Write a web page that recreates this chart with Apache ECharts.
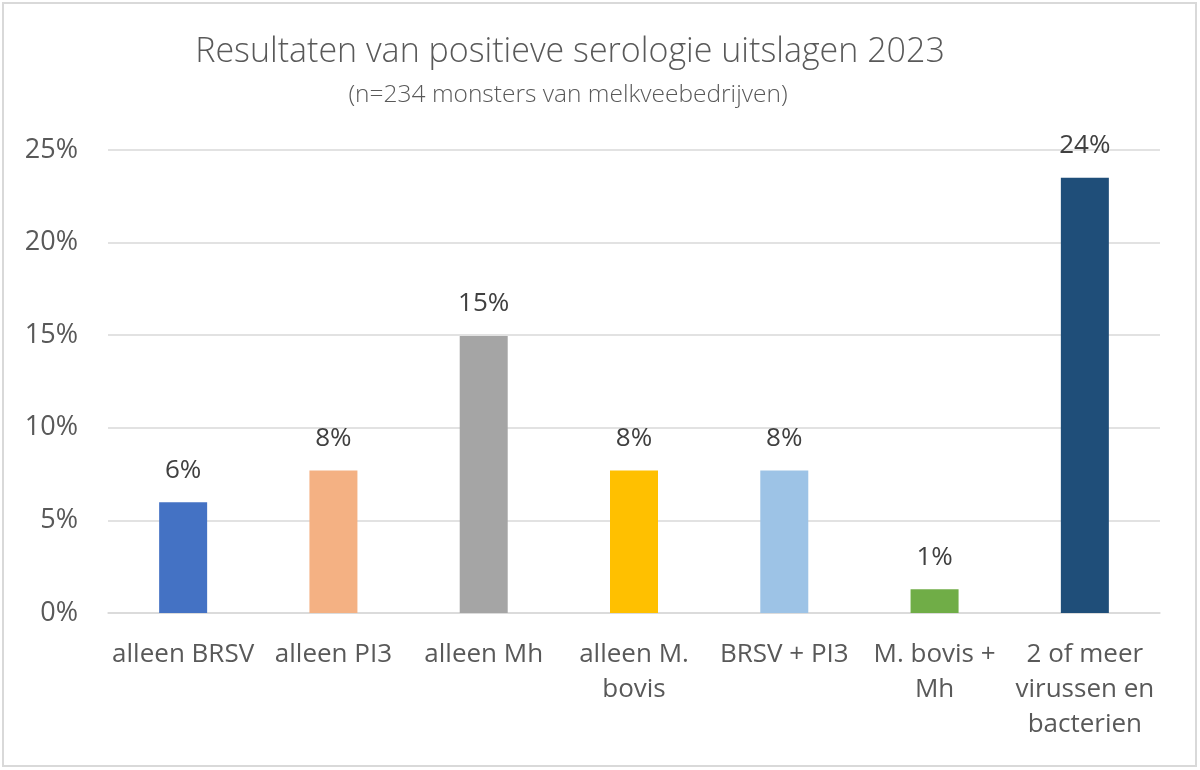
<!DOCTYPE html>
<html>
<head>
<meta charset="utf-8">
<script src="https://cdn.jsdelivr.net/npm/echarts@6/dist/echarts.min.js"></script>
<style>
html,body{margin:0;padding:0;background:#fff;}
#c{width:1200px;height:770px;}
</style>
</head>
<body>
<div id="c"></div>
<script>
const categories = ["alleen BRSV", "alleen PI3", "alleen Mh", "alleen M.\nbovis", "BRSV + PI3", "M. bovis +\nMh", "2 of meer\nvirussen en\nbacterien"];
const values = [5.98, 7.69, 14.96, 7.69, 7.69, 1.28, 23.50];
const colors = ["#4472C4", "#F4B183", "#A5A5A5", "#FFC000", "#9DC3E6", "#70AD47", "#1F4E79"];
const yTicks = [0, 5, 10, 15, 20, 25];

const chart = echarts.init(document.getElementById('c'), null, {renderer: 'canvas'});
const font = "'Open Sans', 'Noto Sans', sans-serif";
chart.setOption({
  backgroundColor: '#ffffff',
  animation: false,
  textStyle: {fontFamily: font, color: '#595959'},
  graphic: [{
    type: 'rect', shape: {x: 3, y: 3, width: 1193, height: 763},
    style: {fill: 'none', stroke: '#d9d9d9', lineWidth: 2}, silent: true
  }],
  title: [{
    text: 'Resultaten van positieve serologie uitslagen 2023',
    left: 565, top: 30, textAlign: 'center',
    textStyle: {fontFamily: font, fontWeight: 300, fontSize: 34, color: '#595959'}
  }, {
    text: '(n=234 monsters van melkveebedrijven)',
    left: 563, top: 78, textAlign: 'center',
    textStyle: {fontFamily: font, fontWeight: 300, fontSize: 24.5, color: '#595959'}
  }],
  grid: {left: 108, right: 40, top: 150, bottom: 157, containLabel: false},
  xAxis: {
    type: 'category',
    data: categories,
    axisLine: {show: true, lineStyle: {color: '#d9d9d9', width: 1.5}},
    axisTick: {show: false},
    axisLabel: {
      interval: 0, margin: 24, color: '#595959', fontSize: 26, lineHeight: 35,
      fontFamily: font
    }
  },
  yAxis: {
    type: 'value',
    min: yTicks[0], max: yTicks[yTicks.length - 1], interval: 5,
    axisLine: {show: false},
    axisTick: {show: false},
    splitLine: {lineStyle: {color: '#d9d9d9', width: 1.5}},
    axisLabel: {
      margin: 30, color: '#595959', fontSize: 27, fontFamily: font,
      formatter: v => v + '%'
    }
  },
  series: [{
    type: 'bar',
    barWidth: 48,
    data: values.map((v, i) => ({value: v, itemStyle: {color: colors[i]}})),
    label: {
      show: true, position: 'top', distance: 19,
      color: '#404040', fontSize: 26, fontFamily: font,
      formatter: p => Math.round(p.value) + '%'
    }
  }]
});
</script>
</body>
</html>
